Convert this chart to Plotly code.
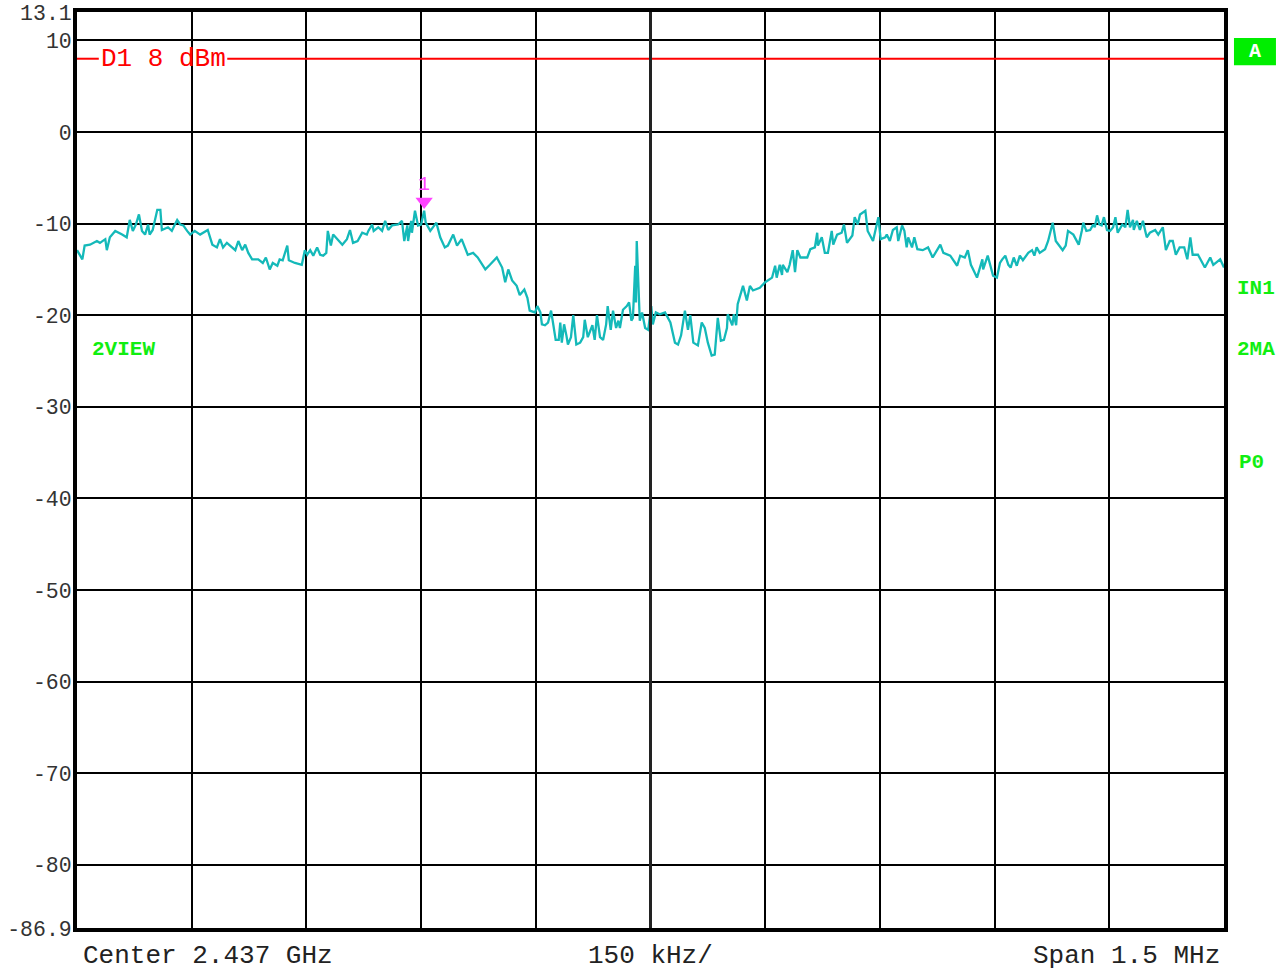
import plotly.graph_objects as go

# Frequency offset from start of span (kHz), span 1.5 MHz centred on 2.437 GHz
freq_khz = [
    0, 7, 10, 17, 26, 30, 37, 39, 43, 50, 59, 65, 69, 73, 77, 81, 85, 89, 93, 95,
    99, 105, 109, 111, 119, 124, 128, 131, 135, 139, 144, 148, 154, 161, 171, 177, 183, 187, 191, 196,
    207, 211, 216, 220, 224, 229, 237, 243, 247, 250, 252, 256, 262, 265, 269, 275, 277, 285, 294, 298,
    301, 305, 309, 314, 318, 322, 326, 328, 332, 335, 340, 347, 353, 357, 361, 367, 373, 379, 381, 386,
    388, 394, 399, 403, 407, 412, 420, 425, 428, 432, 433, 437, 438, 442, 446, 450, 454, 456, 462, 466,
    470, 475, 481, 485, 492, 497, 503, 511, 518, 524, 534, 540, 549, 556, 560, 564, 569, 575, 579, 585,
    589, 592, 599, 602, 606,
    608, 612, 616, 620, 623, 626, 630, 632, 634, 637, 640, 642, 646, 649, 653, 658, 662, 664, 668, 674,
    677, 680, 684, 688, 692, 694, 698, 701, 705, 708, 710, 714, 719, 722, 725, 727, 730, 731, 732, 734,
    736, 739, 743, 747, 751, 753, 757, 762, 769, 776, 782, 786, 790, 795, 799, 802, 806, 812, 817, 821,
    825, 830, 834, 838, 842, 846, 850, 851, 857, 859, 862, 864, 871, 876, 880, 884, 889, 893, 900, 905,
    909, 913, 915, 919, 922, 923, 929, 932, 936, 939, 942, 946, 948, 955, 959, 965, 968, 969, 974, 978,
    982, 987, 989, 994, 1000, 1003, 1007, 1014, 1017, 1021, 1024, 1031, 1034, 1041, 1048, 1051, 1057, 1059, 1063, 1067,
    1072, 1074, 1079, 1082, 1085, 1087, 1092, 1095, 1099, 1106, 1113, 1119, 1129, 1133, 1142, 1151, 1155, 1161, 1165, 1169,
    1172, 1177, 1184, 1185, 1191, 1198, 1203,
    1207, 1210, 1214, 1218, 1221, 1225, 1229, 1233, 1237, 1244, 1249, 1252, 1255, 1259, 1266, 1270, 1276, 1280, 1286, 1289,
    1293, 1296, 1303, 1308, 1310, 1314, 1316, 1320, 1325, 1329, 1331, 1334, 1337, 1340, 1343, 1347, 1351, 1355, 1358, 1361,
    1367, 1371, 1374, 1377, 1381, 1382, 1386, 1390, 1394, 1397, 1399, 1403, 1410, 1414, 1420, 1424, 1429, 1433, 1437, 1442,
    1448, 1452, 1456, 1459, 1466, 1475, 1482, 1486, 1495, 1500,
]

level_dbm = [
    -12.9, -13.9, -12.4, -12.3, -11.9, -12.1, -11.7, -12.9, -11.5, -10.8, -11.2, -11.5, -9.6, -10.8, -10.1, -9.0, -10.8, -11.2, -10.1, -11.2,
    -10.7, -8.5, -8.5, -10.7, -10.4, -10.8, -10.1, -9.6, -10.1, -10.2, -10.8, -11.2, -10.8, -11.2, -10.7, -12.3, -12.6, -11.7, -12.6, -12.1,
    -12.9, -11.9, -12.9, -12.3, -13.2, -13.9, -13.9, -14.3, -13.7, -14.6, -15.0, -14.3, -14.6, -13.9, -14.0, -12.4, -14.0, -14.3, -14.5, -12.9,
    -13.4, -12.9, -13.5, -12.6, -13.4, -13.5, -13.2, -10.8, -12.4, -11.2, -11.7, -12.3, -11.7, -10.7, -12.1, -11.9, -11.0, -11.2, -10.8, -10.1,
    -10.8, -10.4, -10.8, -9.7, -10.7, -10.2, -10.1, -9.7, -11.9, -10.2, -11.9, -9.7, -11.0, -8.6, -10.2, -10.1, -8.6, -9.9, -10.8, -10.4,
    -9.9, -11.5, -12.6, -12.4, -11.2, -12.4, -11.7, -13.4, -13.2, -13.7, -15.0, -14.5, -13.7, -14.8, -16.4, -15.0, -16.2, -16.8, -17.8, -17.2,
    -18.1, -19.5, -19.7, -19.0, -19.7,
    -21.0, -21.1, -20.8, -19.5, -21.1, -22.7, -22.7, -20.8, -23.0, -21.0, -22.2, -23.2, -22.4, -20.0, -23.2, -23.0, -22.4, -20.5, -22.4, -21.1,
    -22.7, -20.0, -22.4, -22.7, -21.0, -19.0, -21.6, -19.5, -21.4, -20.6, -21.4, -19.4, -19.0, -18.6, -20.6, -20.3, -14.6, -18.6, -11.9, -17.5,
    -20.6, -19.7, -21.4, -21.6, -19.0, -21.0, -19.7, -19.9, -19.7, -20.8, -23.0, -23.2, -22.2, -19.5, -21.6, -20.0, -23.0, -23.3, -20.8, -21.4,
    -23.0, -24.4, -24.3, -20.3, -22.8, -22.7, -21.4, -19.9, -21.1, -19.9, -21.1, -18.8, -16.8, -18.4, -16.8, -17.3, -17.1, -17.0, -16.4, -16.1,
    -15.9, -14.6, -15.9, -14.5, -15.6, -14.5, -15.3, -14.5, -12.9, -15.3, -12.9, -13.7, -13.7, -13.7, -12.8, -12.6, -11.0, -12.4, -11.5, -13.2,
    -13.2, -10.8, -12.3, -11.2, -11.0, -10.1, -12.1, -11.3, -9.3, -10.1, -9.0, -8.6, -10.8, -11.9, -9.3, -11.7, -11.5, -11.2, -11.9, -10.7,
    -10.4, -11.9, -10.2, -10.8, -12.6, -11.5, -12.6, -11.5, -12.8, -12.9, -12.6, -13.7, -12.3, -13.2, -13.5, -14.6, -13.5, -13.7, -12.9, -14.5,
    -15.0, -15.9, -13.9, -15.0, -13.5, -15.7, -15.9,
    -14.3, -13.9, -13.5, -14.5, -14.8, -13.7, -14.6, -13.5, -14.0, -13.2, -12.9, -13.5, -12.6, -13.2, -12.8, -11.9, -9.9, -11.9, -12.6, -12.9,
    -12.4, -10.8, -11.2, -11.9, -12.3, -10.8, -9.9, -10.8, -10.7, -10.1, -10.4, -9.1, -10.1, -10.2, -9.3, -10.7, -10.8, -10.4, -9.3, -11.0,
    -10.1, -10.4, -8.5, -10.4, -9.6, -10.7, -9.7, -10.7, -9.7, -10.8, -11.5, -11.0, -10.7, -11.2, -10.4, -12.9, -11.9, -11.9, -13.4, -12.6,
    -12.6, -13.9, -11.5, -13.4, -13.4, -14.8, -13.7, -14.5, -13.9, -14.8,
]

y_tick_values = [13.1, 10, 0, -10, -20, -30, -40, -50, -60, -70, -80, -86.9]
y_tick_labels = ["13.1", "10", "0", "-10", "-20", "-30", "-40", "-50", "-60", "-70", "-80", "-86.9"]

display_line_dbm = 8
marker_freq_khz = 454
marker_level_dbm = -8.6

span_khz = 1500
div_khz = 150

MONO = "Liberation Mono, Courier New, monospace"
TRACE = "#14b9b9"
GREEN = "#11ee11"
MAGENTA = "#ff44ff"

fig = go.Figure()

fig.add_trace(go.Scatter(
    x=freq_khz, y=level_dbm, mode="lines",
    line=dict(color=TRACE, width=2.3), hoverinfo="skip", showlegend=False,
))

# marker 1 triangle
fig.add_trace(go.Scatter(
    x=[marker_freq_khz], y=[marker_level_dbm + 1.0], mode="markers",
    marker=dict(symbol="triangle-down", size=15, color=MAGENTA),
    hoverinfo="skip", showlegend=False,
))

shapes = []
# display line D1, broken where its label sits
shapes.append(dict(type="line", xref="paper", yref="y", x0=0, x1=0.019,
                   y0=display_line_dbm, y1=display_line_dbm, line=dict(color="red", width=2)))
shapes.append(dict(type="line", xref="paper", yref="y", x0=0.131, x1=1,
                   y0=display_line_dbm, y1=display_line_dbm, line=dict(color="red", width=2)))
# thicker centre graticule line
shapes.append(dict(type="line", xref="x", yref="paper", x0=span_khz / 2, x1=span_khz / 2,
                   y0=0, y1=1, line=dict(color="#222", width=3)))
# green "A" box on the right
shapes.append(dict(type="rect", xref="paper", yref="paper", x0=1.0087, x1=1.0453,
                   y0=0.942, y1=0.9716, fillcolor="#00ee00", line=dict(width=0)))

annotations = [
    dict(text="D1 8 dBm", xref="paper", yref="y", x=0.075, y=display_line_dbm,
         showarrow=False, font=dict(family=MONO, size=26, color="red"),
         xanchor="center", yanchor="middle"),
    dict(text="1", xref="x", yref="y", x=marker_freq_khz, y=marker_level_dbm + 2.9,
         showarrow=False, font=dict(family=MONO, size=20, color=MAGENTA),
         xanchor="center", yanchor="middle"),
    dict(text="<b>A</b>", xref="paper", yref="paper", x=1.027, y=0.9568,
         showarrow=False, font=dict(family=MONO, size=20, color="white"),
         xanchor="center", yanchor="middle"),
    dict(text="<b>IN1</b>", xref="paper", yref="y", x=1.0095, y=-17.1,
         showarrow=False, font=dict(family=MONO, size=21, color=GREEN),
         xanchor="left", yanchor="middle"),
    dict(text="<b>2MA</b>", xref="paper", yref="y", x=1.0095, y=-23.7,
         showarrow=False, font=dict(family=MONO, size=21, color=GREEN),
         xanchor="left", yanchor="middle"),
    dict(text="<b>P0</b>", xref="paper", yref="y", x=1.011, y=-36.1,
         showarrow=False, font=dict(family=MONO, size=21, color=GREEN),
         xanchor="left", yanchor="middle"),
    dict(text="<b>2VIEW</b>", xref="paper", yref="y", x=0.011, y=-23.7,
         showarrow=False, font=dict(family=MONO, size=21, color=GREEN),
         xanchor="left", yanchor="middle"),
    dict(text="Center 2.437 GHz", xref="paper", yref="paper", x=0.0035, y=0, yshift=-28,
         showarrow=False, font=dict(family=MONO, size=26, color="#222"),
         xanchor="left", yanchor="middle"),
    dict(text="150 kHz/", xref="paper", yref="paper", x=0.5, y=0, yshift=-28,
         showarrow=False, font=dict(family=MONO, size=26, color="#222"),
         xanchor="center", yanchor="middle"),
    dict(text="Span 1.5 MHz", xref="paper", yref="paper", x=0.998, y=0, yshift=-28,
         showarrow=False, font=dict(family=MONO, size=26, color="#222"),
         xanchor="right", yanchor="middle"),
]

fig.update_layout(
    width=1288, height=972,
    margin=dict(l=77, r=64, t=12, b=44),
    paper_bgcolor="white", plot_bgcolor="white",
    shapes=shapes, annotations=annotations,
    showlegend=False,
)

fig.update_xaxes(
    range=[0, span_khz], tick0=0, dtick=div_khz, showticklabels=False,
    showgrid=True, gridcolor="black", gridwidth=2, zeroline=False,
    showline=True, linecolor="black", linewidth=4, mirror=True, ticks="",
    automargin=False,
)
fig.update_yaxes(
    range=[-86.9, 13.1], tickmode="array", tickvals=y_tick_values, ticktext=y_tick_labels,
    tickfont=dict(family=MONO, size=21.5, color="#333"),
    showgrid=True, gridcolor="black", gridwidth=2, zeroline=False,
    showline=True, linecolor="black", linewidth=4, mirror=True, ticks="",
    ticklabelstandoff=-3, automargin=False,
)

fig.write_html(
    "out.html",
    config={"displayModeBar": False},
    post_script="document.body.style.margin='0px';document.body.style.padding='0px';"
                "document.documentElement.style.margin='0px';document.documentElement.style.overflow='hidden';",
)
